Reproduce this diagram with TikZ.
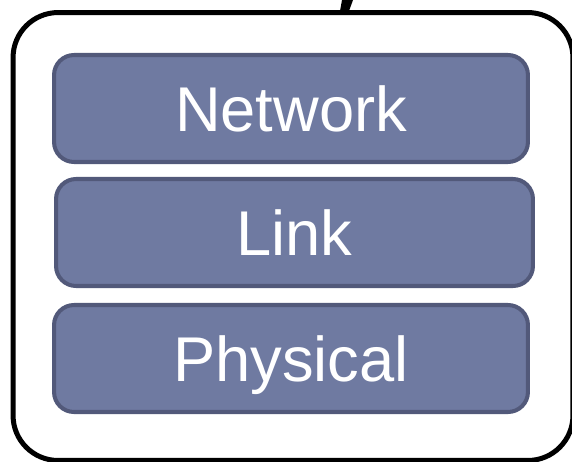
\documentclass[tikz,border=0pt]{standalone}
\usepackage{xcolor}
\usepackage{fontspec}
\setmainfont{Liberation Sans}
\usepackage{tikz}
\definecolor{layerfill}{RGB}{111,122,161}
\definecolor{layerline}{RGB}{82,89,122}

\begin{document}
\begin{tikzpicture}[x=0.02cm, y=-0.02cm,
    layer/.style={draw=layerline, fill=layerfill, line width=2.3pt, rounded corners=0.4cm,
        minimum width=9.48cm, minimum height=2.14cm, inner sep=0pt, text=white,
        font=\fontsize{36}{40}\selectfont, text height=25.8pt, text depth=0pt}]
        \useasboundingbox (0,0) rectangle (572,461);
        \fill (342,0) -- (353,0) -- (349,11) -- (340,11) -- cycle;
        \node[draw, line width=2.85pt, rounded corners=0.9cm, minimum width=11.2cm, minimum height=8.96cm] (stack) at (293,236.5) {};
        \node[layer] (network) at (291,108.5) {Network};
        \node[layer, minimum width=9.54cm] (link) at (294.5,232.5) {Link};
        \node[layer] (physical) at (291,358.5) {Physical};
\end{tikzpicture}
\end{document}
